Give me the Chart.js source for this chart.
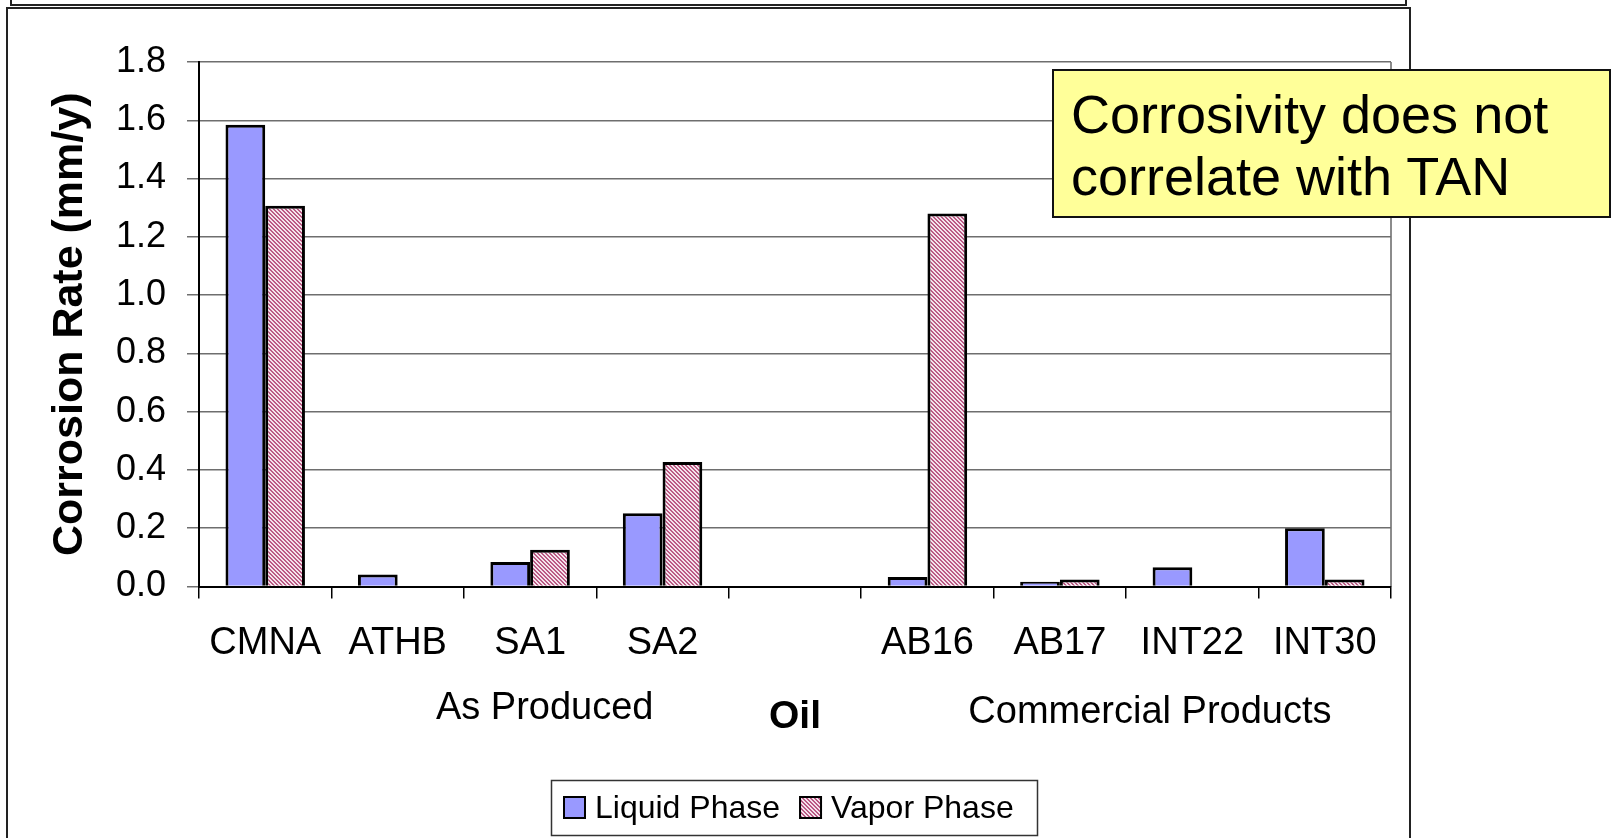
<!DOCTYPE html>
<html>
<head>
<meta charset="utf-8">
<script src="https://cdn.jsdelivr.net/npm/chart.js@4"></script>
<style>
    html, body { margin: 0; padding: 0; background: #fff; }
    #wrap { position: relative; width: 1613px; height: 838px; overflow: hidden; }
    #wrap canvas { position: absolute; left: 0; top: 0; }
    .note {
        position: absolute; left: 1052px; top: 69px; width: 559px; height: 149px;
        box-sizing: border-box; background: #ffff99; border: 2px solid #111;
        font-family: "Liberation Sans", Arial, sans-serif; font-size: 54px; line-height: 62px;
        padding: 12px 0 0 17px; color: #000; white-space: nowrap;
    }
</style>
</head>
<body>
<div id="wrap">
    <canvas id="corrosion-chart" width="1613" height="838"></canvas>
    <div class="note">Corrosivity does not<br>correlate with TAN</div>
</div>
<script>
const oils = ['CMNA', 'ATHB', 'SA1', 'SA2', '', 'AB16', 'AB17', 'INT22', 'INT30'];
const liquidPhase = [1.585, 0.041, 0.084, 0.251, null, 0.033, 0.016, 0.066, 0.200];
const vaporPhase = [1.307, 0, 0.126, 0.427, null, 1.280, 0.024, 0, 0.024];
const yTickLabels = ['0.0', '0.2', '0.4', '0.6', '0.8', '1.0', '1.2', '1.4', '1.6', '1.8'];
const groupLabels = ['As Produced', 'Commercial Products'];

const FONT = '"Liberation Sans", Arial, sans-serif';

// pink hatch like the old Excel pattern fill
function makeHatch() {
    const c = document.createElement('canvas');
    c.width = 4;
    c.height = 4;
    const g = c.getContext('2d');
    g.fillStyle = '#f4e4ec';
    g.fillRect(0, 0, 4, 4);
    g.fillStyle = '#bb5a85';
    for (let y = 0; y < 4; y++) {
        for (let x = 0; x < 4; x++) {
            const d = (x - y + 8) % 4;
            if (d === 0 || d === 1) g.fillRect(x, y, 1, 1);
        }
    }
    return g.createPattern(c, 'repeat');
}

const extrasPlugin = {
    id: 'extras',
    beforeDraw(chart) {
        const ctx = chart.ctx;
        const a = chart.chartArea;
        ctx.save();
        // slide frames
        ctx.strokeStyle = '#222';
        ctx.lineWidth = 2;
        ctx.beginPath();
        ctx.moveTo(11, 0); ctx.lineTo(11, 5); ctx.lineTo(1406, 5); ctx.lineTo(1406, 0);
        ctx.stroke();
        ctx.beginPath();
        ctx.moveTo(7, 838); ctx.lineTo(7, 8); ctx.lineTo(1410, 8); ctx.lineTo(1410, 838);
        ctx.stroke();
        // plot area right border
        ctx.strokeStyle = '#8c8c8c';
        ctx.beginPath();
        ctx.moveTo(a.right, a.top); ctx.lineTo(a.right, a.bottom);
        ctx.stroke();
        ctx.restore();
    },
    afterDraw(chart) {
        const ctx = chart.ctx;
        const xs = chart.scales.x;
        ctx.save();

        // group captions under the oil names
        ctx.fillStyle = '#000';
        ctx.font = '38px ' + FONT;
        ctx.textAlign = 'center';
        ctx.textBaseline = 'alphabetic';
        ctx.fillText(groupLabels[0], xs.getPixelForValue(2.11), 718.5);
        ctx.fillText(groupLabels[1], xs.getPixelForValue(6.68), 723);

        // legend
        ctx.fillStyle = '#fff';
        ctx.fillRect(551, 780, 486, 56);
        ctx.strokeStyle = '#333';
        ctx.lineWidth = 1.5;
        ctx.strokeRect(551.5, 780.5, 486, 55);
        ctx.font = '32px ' + FONT;
        ctx.textAlign = 'left';
        let x = 563;
        chart.data.datasets.forEach(ds => {
            ctx.fillStyle = ds.backgroundColor;
            ctx.fillRect(x, 796, 23, 23);
            ctx.strokeStyle = '#000';
            ctx.lineWidth = 2;
            ctx.strokeRect(x + 1, 797, 21, 21);
            ctx.fillStyle = '#000';
            ctx.fillText(ds.label, x + 32, 818);
            x += 32 + ctx.measureText(ds.label).width + 19;
        });
        ctx.restore();
    }
};

document.addEventListener('DOMContentLoaded', function() {
    const ctx = document.getElementById('corrosion-chart').getContext('2d');

    new Chart(ctx, {
        type: 'bar',
        data: {
            labels: oils,
            datasets: [{
                label: 'Liquid Phase',
                data: liquidPhase,
                backgroundColor: '#9999ff',
                borderColor: '#000',
                borderWidth: 3
            }, {
                label: 'Vapor Phase',
                data: vaporPhase,
                backgroundColor: makeHatch(),
                borderColor: '#000',
                borderWidth: 3
            }]
        },
        options: {
            responsive: false,
            animation: false,
            categoryPercentage: 0.6,
            barPercentage: 1,
            layout: {
                padding: { left: 0, top: 62, right: 222, bottom: 91.5 }
            },
            plugins: {
                legend: { display: false },
                tooltip: { enabled: false }
            },
            scales: {
                x: {
                    afterFit: function(scale) { scale.height = 160; },
                    grid: {
                        drawOnChartArea: false,
                        tickLength: 12,
                        color: '#000',
                        lineWidth: 1.5
                    },
                    border: { color: '#000', width: 2 },
                    ticks: {
                        color: '#000',
                        font: { family: FONT, size: 38 },
                        padding: 22,
                        autoSkip: false,
                        maxRotation: 0
                    },
                    title: {
                        display: true,
                        text: 'Oil',
                        color: '#000',
                        font: { family: FONT, size: 39, weight: 'bold' },
                        padding: { top: 0, bottom: 6 }
                    }
                },
                y: {
                    min: 0,
                    max: 1.8,
                    afterFit: function(scale) { scale.width = 199; },
                    grid: {
                        color: '#6e6e6e',
                        lineWidth: 1.5,
                        tickLength: 12
                    },
                    border: { color: '#000', width: 2 },
                    ticks: {
                        stepSize: 0.2,
                        color: '#000',
                        font: { family: FONT, size: 36 },
                        padding: 21,
                        callback: function(value, index) { return yTickLabels[index]; }
                    },
                    title: {
                        display: true,
                        text: 'Corrosion Rate (mm/y)',
                        color: '#000',
                        font: { family: FONT, size: 43, weight: 'bold' },
                        padding: { top: 44, bottom: 0 }
                    }
                }
            }
        },
        plugins: [extrasPlugin]
    });
});
</script>
</body>
</html>
